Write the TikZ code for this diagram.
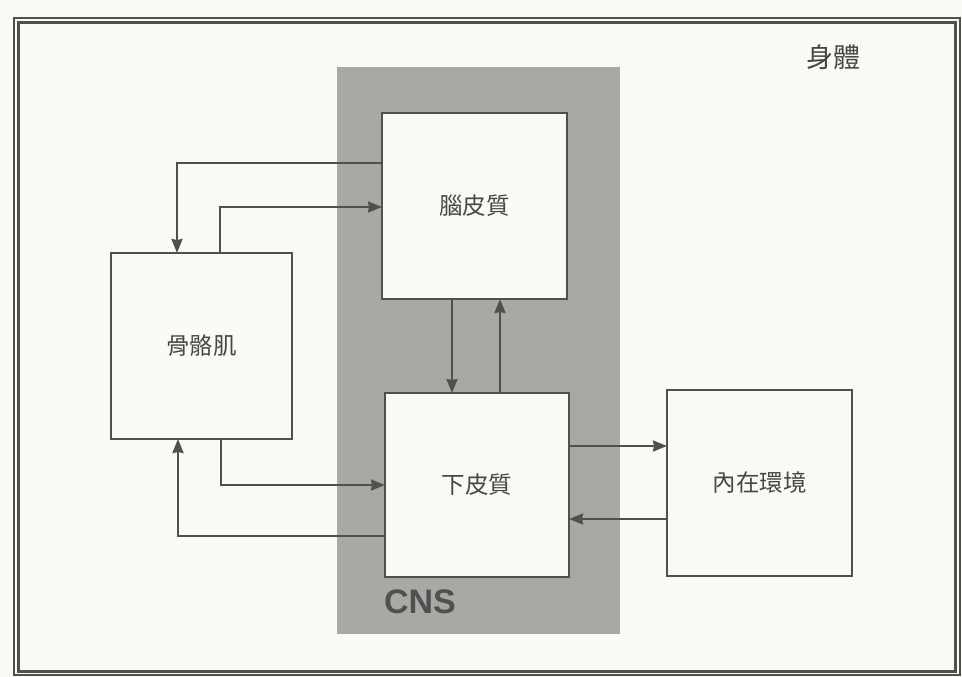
\documentclass[tikz,border=0pt]{standalone}
\usepackage{fontspec}
\newfontfamily\cjk{Noto Sans CJK TC}
\newfontfamily\cnsfont{Liberation Sans}
\usetikzlibrary{arrows.meta}
\definecolor{paper}{RGB}{251,250,244}
\definecolor{ink}{RGB}{80,80,80}
\definecolor{txt}{RGB}{70,70,70}
\definecolor{cnsgray}{RGB}{168,168,164}
\tikzset{
  blk/.style={draw=ink, line width=2.2pt, fill=paper, inner sep=0pt, outer sep=0pt,
    font=\cjk\fontsize{23.5}{23.5}\selectfont, text=txt},
  arr/.style={draw=ink, line width=2.2pt, -{Stealth[length=14pt,width=11pt,inset=1pt]}},
}
\begin{document}
\begin{tikzpicture}[x=1pt,y=-1pt]
\fill[paper] (0,0) rectangle (962,677);
\useasboundingbox (0,0) rectangle (962,677);
% outer frame (double)
\draw[ink, line width=1.2pt] (14,18) rectangle (960,675);
\draw[ink, line width=3pt] (18,23) rectangle (955,671);
% CNS band
\fill[cnsgray] (337,67) rectangle (620,634);
\node[font=\cnsfont\bfseries\fontsize{34}{34}\selectfont, text=ink] (cns) at (420,602) {CNS};
\node[font=\cjk\fontsize{27}{27}\selectfont, text=txt] (body) at (833,57) {身體};
% boxes
\node[blk, minimum width=185pt, minimum height=186pt] (ctx) at (474.5,206) {腦皮質};
\node[blk, minimum width=184pt, minimum height=184pt] (sub) at (477,485) {下皮質};
\node[blk, minimum width=181pt, minimum height=186pt] (sk) at (201.5,346) {骨骼肌};
\node[blk, minimum width=185pt, minimum height=186pt] (env) at (759.5,483) {內在環境};
% connectors
\draw[arr] (ctx.west |- 0,163) -| (177,0 |- sk.north);
\draw[arr] (220,0 |- sk.north) |- (ctx.west |- 0,207);
\draw[arr] (452,0 |- ctx.south) -- (452,0 |- sub.north);
\draw[arr] (500,0 |- sub.north) -- (500,0 |- ctx.south);
\draw[arr] (221,0 |- sk.south) |- (sub.west |- 0,485);
\draw[arr] (sub.west |- 0,536) -| (178,0 |- sk.south);
\draw[arr] (sub.east |- 0,446) -- (env.west |- 0,446);
\draw[arr] (env.west |- 0,519) -- (sub.east |- 0,519);
\end{tikzpicture}
\end{document}
